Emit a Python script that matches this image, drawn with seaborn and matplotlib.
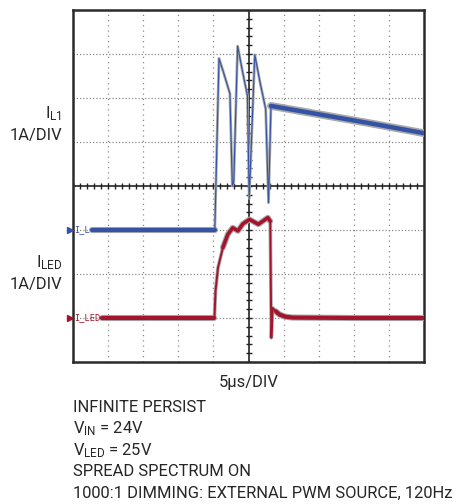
import matplotlib
matplotlib.use("Agg")
import matplotlib.pyplot as plt
import numpy as np
import pandas as pd
import seaborn as sns

# scope traces in divisions (x: -5..5, y: -4..4)
il_t = [-4.45, -0.96, -0.84, -0.70, -0.53, -0.46, -0.42, -0.31, -0.17, -0.03, 0.02,
        0.18, 0.33, 0.49, 0.57, 0.64, 2.0, 3.5, 5.0]
il_v = [-1.0, -1.0, 2.9, 2.55, 2.1, 0.0, 0.1, 3.18, 2.6, 2.05, -0.28,
        2.98, 2.35, 1.75, -0.38, 1.82, 1.63, 1.42, 1.2]

led_t = [-4.17, -0.97, -0.94, -0.87, -0.73, -0.59, -0.45, -0.30, -0.16, 0.03,
         0.28, 0.55, 0.62, 0.65, 0.69, 0.78, 0.88, 1.05, 1.25, 3.0, 5.0]
led_v = [-3.0, -3.0, -2.39, -1.86, -1.40, -1.10, -0.95, -1.02, -0.86, -0.76,
         -0.87, -0.72, -0.80, -3.45, -2.77, -2.85, -2.92, -2.97, -2.99, -3.0, -3.0]

il_zero = -1.0
led_zero = -3.0

notes = ["INFINITE PERSIST",
         r"$\mathregular{V_{IN}}$ = 24V",
         r"$\mathregular{V_{LED}}$ = 25V",
         "SPREAD SPECTRUM ON",
         "1000:1 DIMMING: EXTERNAL PWM SOURCE, 120Hz"]

BLUE = "#3553a4"
RED = "#a3152c"
HALO = "#a9a9a9"

sns.set_style("white")
plt.rcParams["font.family"] = ["Roboto", "DejaVu Sans"]
plt.rcParams["mathtext.fontset"] = "custom"
plt.rcParams["mathtext.rm"] = "Roboto"
plt.rcParams["mathtext.it"] = "Roboto"

fig = plt.figure(figsize=(4.63, 5.04), dpi=100)
ax = fig.add_axes([73 / 463, 1 - 362 / 504, 351 / 463, 352 / 504])
ax.set_xlim(-5, 5)
ax.set_ylim(-4, 4)

# graticule
for gx in range(-4, 5):
    if gx != 0:
        ax.axvline(gx, color="#8a8a8a", lw=0.9, ls=(0, (1, 3.2)), zorder=1)
for gy in range(-3, 4):
    if gy != 0:
        ax.axhline(gy, color="#8a8a8a", lw=0.9, ls=(0, (1, 1.6)), zorder=1)
ax.axhline(0, color="#222222", lw=1.2, zorder=2)
ax.axvline(0, color="#222222", lw=1.2, zorder=2)
minor_x = np.arange(-5, 5.01, 0.2)
minor_y = np.arange(-4, 4.01, 0.2)
ax.plot(minor_x, np.zeros_like(minor_x), ls="none", marker="|", ms=5, mew=1.0,
        color="#222222", zorder=2)
ax.plot(np.zeros_like(minor_y), minor_y, ls="none", marker="_", ms=5, mew=1.0,
        color="#222222", zorder=2)

il = pd.DataFrame({"t": il_t, "v": il_v})
led = pd.DataFrame({"t": led_t, "v": led_v})


def trace(df, color, lw, halo_lw):
    # persistence halo underneath, trace on top
    sns.lineplot(data=df, x="t", y="v", sort=False, estimator=None, color=HALO,
                 lw=halo_lw, ax=ax, zorder=3)
    sns.lineplot(data=df, x="t", y="v", sort=False, estimator=None, color=color,
                 lw=lw, ax=ax, zorder=4)


trace(il, BLUE, 0.8, 2.0)
trace(il[il["t"] >= 0.64], BLUE, 3.2, 5.6)
trace(il[il["t"] <= -0.96], BLUE, 3.0, 4.4)

trace(led, RED, 1.4, 2.6)
trace(led[(led["t"] >= -0.73) & (led["t"] <= 0.62)], RED, 2.6, 4.2)
trace(led[led["t"] <= -0.97], RED, 3.0, 4.4)
trace(led[led["t"] >= 0.78], RED, 3.0, 4.4)

ax.set_xlabel("")
ax.set_ylabel("")
ax.set_xticks([])
ax.set_yticks([])
for s in ax.spines.values():
    s.set_color("#2a2a2a")
    s.set_linewidth(1.8)

# channel markers
ax.plot([-5.08], [il_zero], marker=">", ms=4.5, color=BLUE, clip_on=False, zorder=6)
ax.plot([-5.08], [led_zero], marker=">", ms=4.5, color=RED, clip_on=False, zorder=6)
ax.text(-4.97, il_zero, "I_L", color=BLUE, fontsize=6.2, family="DejaVu Sans Mono",
        ha="left", va="center", zorder=6)
ax.text(-4.97, led_zero, "I_LED", color=RED, fontsize=6.2, family="DejaVu Sans Mono",
        ha="left", va="center", zorder=6)

# side labels
fs = 11.9
fig.text(62 / 463, 1 - 114 / 504, r"$\mathregular{I_{L1}}$", ha="right", va="center", fontsize=fs)
fig.text(62 / 463, 1 - 136 / 504, "1A/DIV", ha="right", va="center", fontsize=fs)
fig.text(62 / 463, 1 - 263 / 504, r"$\mathregular{I_{LED}}$", ha="right", va="center", fontsize=fs)
fig.text(62 / 463, 1 - 285 / 504, "1A/DIV", ha="right", va="center", fontsize=fs)

fig.text(249 / 463, 1 - 383 / 504, "5µs/DIV", ha="center", va="center", fontsize=fs)
for i, line in enumerate(notes):
    fig.text(73 / 463, 1 - (407 + 21.6 * i) / 504, line, ha="left", va="center", fontsize=fs)

fig.savefig("out.png", dpi=100)
